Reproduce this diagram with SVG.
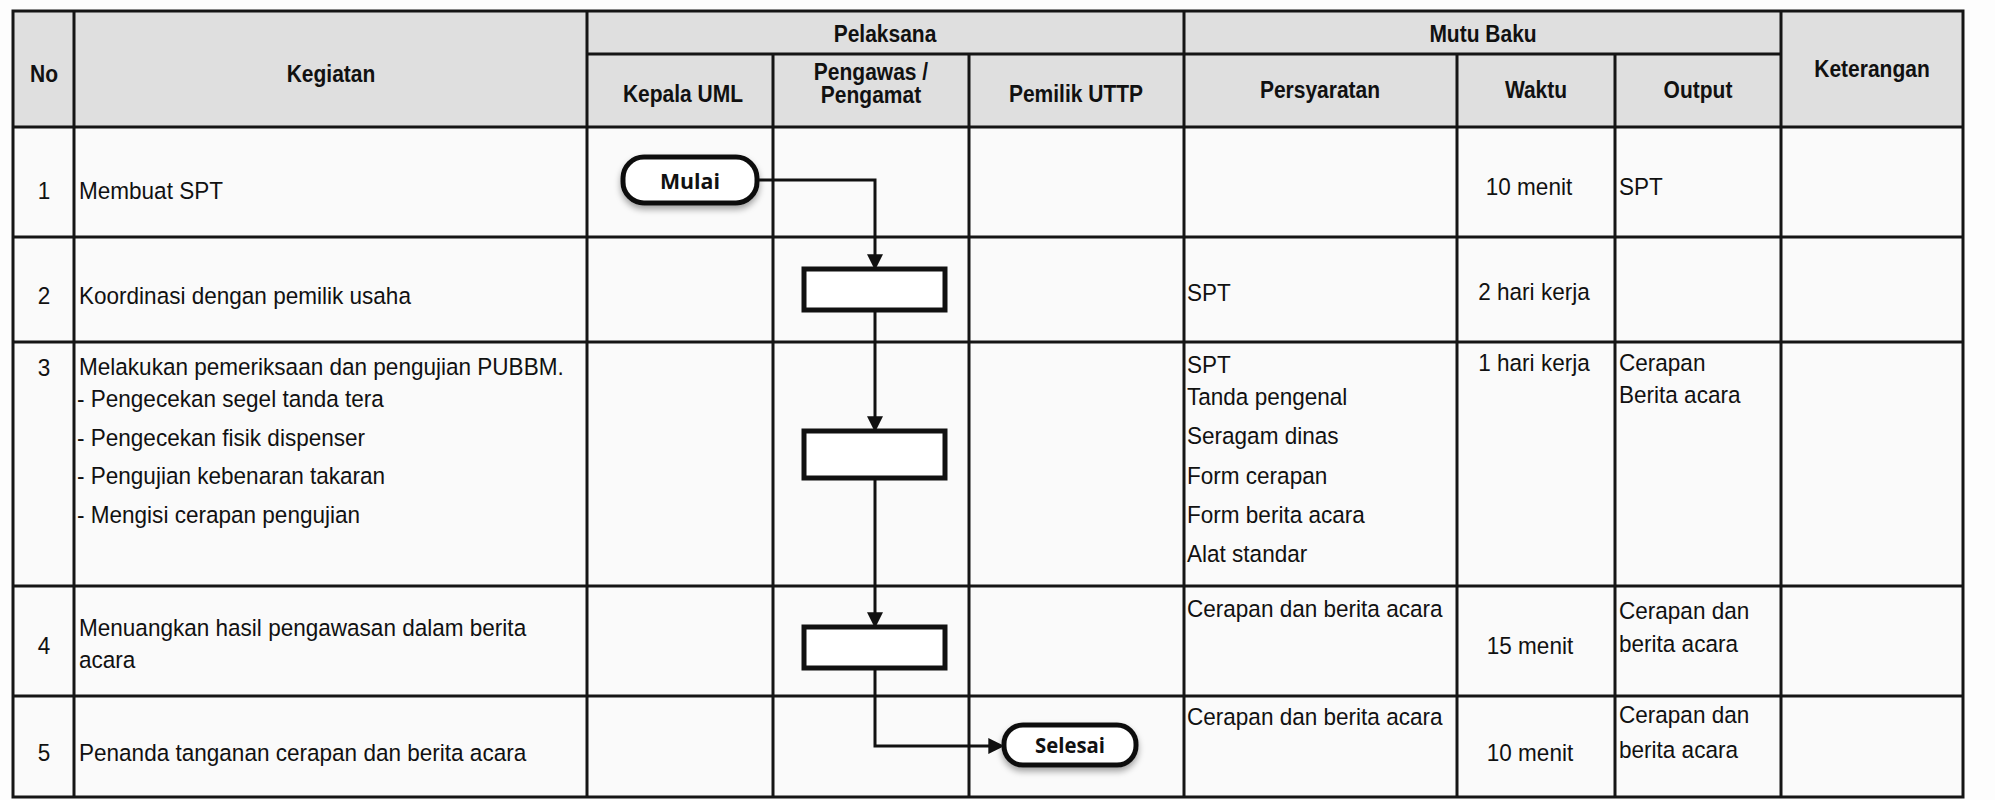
<svg xmlns="http://www.w3.org/2000/svg" width="1995" height="800" viewBox="0 0 1995 800">
<style>
.grid{stroke:#151515;stroke-width:3;fill:none}
.hd{font-family:"Liberation Sans",Arial,sans-serif;font-weight:700;font-size:24px;fill:#111;text-anchor:middle}
.tx{font-family:"Liberation Sans",Arial,sans-serif;font-size:24.5px;fill:#111}
.mid{text-anchor:middle}
.box{fill:#fff;stroke:#111;stroke-width:5}
.term{fill:#fff;stroke:#111;stroke-width:5}
.tl{font-family:"Open Sans","Noto Sans",sans-serif;font-weight:700;font-size:22px;fill:#111;text-anchor:middle}
.con{fill:none;stroke:#111;stroke-width:3}
</style>
<defs>
<marker id="arr" markerUnits="userSpaceOnUse" markerWidth="16" markerHeight="16" viewBox="0 0 14 14" refX="5" refY="7" orient="auto">
<path d="M0,0 L14,7 L0,14 z" fill="#111"/>
</marker>
<filter id="sh" x="-20%" y="-30%" width="140%" height="180%">
<feDropShadow dx="0" dy="4" stdDeviation="3" flood-color="#000" flood-opacity="0.35"/>
</filter>
</defs>
<rect x="0" y="0" width="1995" height="800" fill="#fdfdfd"/>
<g id="table">
<rect x="13" y="11" width="1950" height="116" fill="#dfdfdf"/>
<rect x="13" y="127" width="1950" height="670" fill="#fafafa"/>
<rect class="grid" x="13" y="11" width="1950" height="786" stroke-width="3.5"/>
<path class="grid" d="M587 54H1781 M13 127H1963 M13 237H1963 M13 342H1963 M13 586H1963 M13 696H1963"/>
<path class="grid" d="M74 11V797 M587 11V797 M773 54V797 M969 54V797 M1184 11V797 M1457 54V797 M1615 54V797 M1781 11V797"/>
</g>
<g id="header" transform="scale(0.875 1)">
<text class="hd" x="50.29" y="82">No</text>
<text class="hd" x="378.29" y="82">Kegiatan</text>
<text class="hd" x="1011.43" y="42">Pelaksana</text>
<text class="hd" x="1694.86" y="42">Mutu Baku</text>
<text class="hd" x="2139.43" y="77">Keterangan</text>
<text class="hd" x="780.57" y="102">Kepala UML</text>
<text class="hd" x="995.43" y="80">Pengawas /</text>
<text class="hd" x="995.43" y="103">Pengamat</text>
<text class="hd" x="1229.71" y="102">Pemilik UTTP</text>
<text class="hd" x="1508.57" y="98">Persyaratan</text>
<text class="hd" x="1755.43" y="98">Waktu</text>
<text class="hd" x="1940.57" y="98">Output</text>
</g>
<g id="body" transform="scale(0.92 1)">
<text class="tx mid" x="47.83" y="199">1</text>
<text class="tx mid" x="47.83" y="304">2</text>
<text class="tx mid" x="47.83" y="376">3</text>
<text class="tx mid" x="47.83" y="654">4</text>
<text class="tx mid" x="47.83" y="761">5</text>
<text class="tx" x="85.87" y="199">Membuat SPT</text>
<text class="tx" x="85.87" y="304">Koordinasi dengan pemilik usaha</text>
<text class="tx" x="85.87" y="375">Melakukan pemeriksaan dan pengujian PUBBM.</text>
<text class="tx" x="83.7" y="407">- Pengecekan segel tanda tera</text>
<text class="tx" x="83.7" y="446">- Pengecekan fisik dispenser</text>
<text class="tx" x="83.7" y="484">- Pengujian kebenaran takaran</text>
<text class="tx" x="83.7" y="523">- Mengisi cerapan pengujian</text>
<text class="tx" x="85.87" y="636">Menuangkan hasil pengawasan dalam berita</text>
<text class="tx" x="85.87" y="668">acara</text>
<text class="tx" x="85.87" y="761">Penanda tanganan cerapan dan berita acara</text>
<text class="tx" x="1290.22" y="301">SPT</text>
<text class="tx" x="1290.22" y="373">SPT</text>
<text class="tx" x="1290.22" y="405">Tanda pengenal</text>
<text class="tx" x="1290.22" y="444">Seragam dinas</text>
<text class="tx" x="1290.22" y="484">Form cerapan</text>
<text class="tx" x="1290.22" y="523">Form berita acara</text>
<text class="tx" x="1290.22" y="562">Alat standar</text>
<text class="tx" x="1290.22" y="617">Cerapan dan berita acara</text>
<text class="tx" x="1290.22" y="725">Cerapan dan berita acara</text>
<text class="tx mid" x="1661.96" y="195">10 menit</text>
<text class="tx mid" x="1667.39" y="300">2 hari kerja</text>
<text class="tx mid" x="1667.39" y="371">1 hari kerja</text>
<text class="tx mid" x="1663.04" y="654">15 menit</text>
<text class="tx mid" x="1663.04" y="761">10 menit</text>
<text class="tx" x="1759.78" y="195">SPT</text>
<text class="tx" x="1759.78" y="371">Cerapan</text>
<text class="tx" x="1759.78" y="403">Berita acara</text>
<text class="tx" x="1759.78" y="619">Cerapan dan</text>
<text class="tx" x="1759.78" y="652">berita acara</text>
<text class="tx" x="1759.78" y="723">Cerapan dan</text>
<text class="tx" x="1759.78" y="758">berita acara</text>
</g>
<g id="connectors">
<path class="con" d="M757 180H875V260" marker-end="url(#arr)"/>
<path class="con" d="M875 310V422" marker-end="url(#arr)"/>
<path class="con" d="M875 478V618" marker-end="url(#arr)"/>
<path class="con" d="M875 668V746H994" marker-end="url(#arr)"/>
</g>
<g id="node-mulai">
<rect class="term" x="623" y="157" width="134" height="46" rx="21" filter="url(#sh)"/>
<text class="tl" x="690" y="189" textLength="60" lengthAdjust="spacingAndGlyphs">Mulai</text>
</g>
<g id="node-step2">
<rect class="box" x="804" y="269" width="141" height="41"/>
</g>
<g id="node-step3">
<rect class="box" x="804" y="431" width="141" height="47"/>
</g>
<g id="node-step4">
<rect class="box" x="804" y="627" width="141" height="41"/>
</g>
<g id="node-selesai">
<rect class="term" x="1004" y="725" width="132" height="40" rx="19" filter="url(#sh)"/>
<text class="tl" x="1070" y="753" textLength="70" lengthAdjust="spacingAndGlyphs">Selesai</text>
</g>
</svg>
